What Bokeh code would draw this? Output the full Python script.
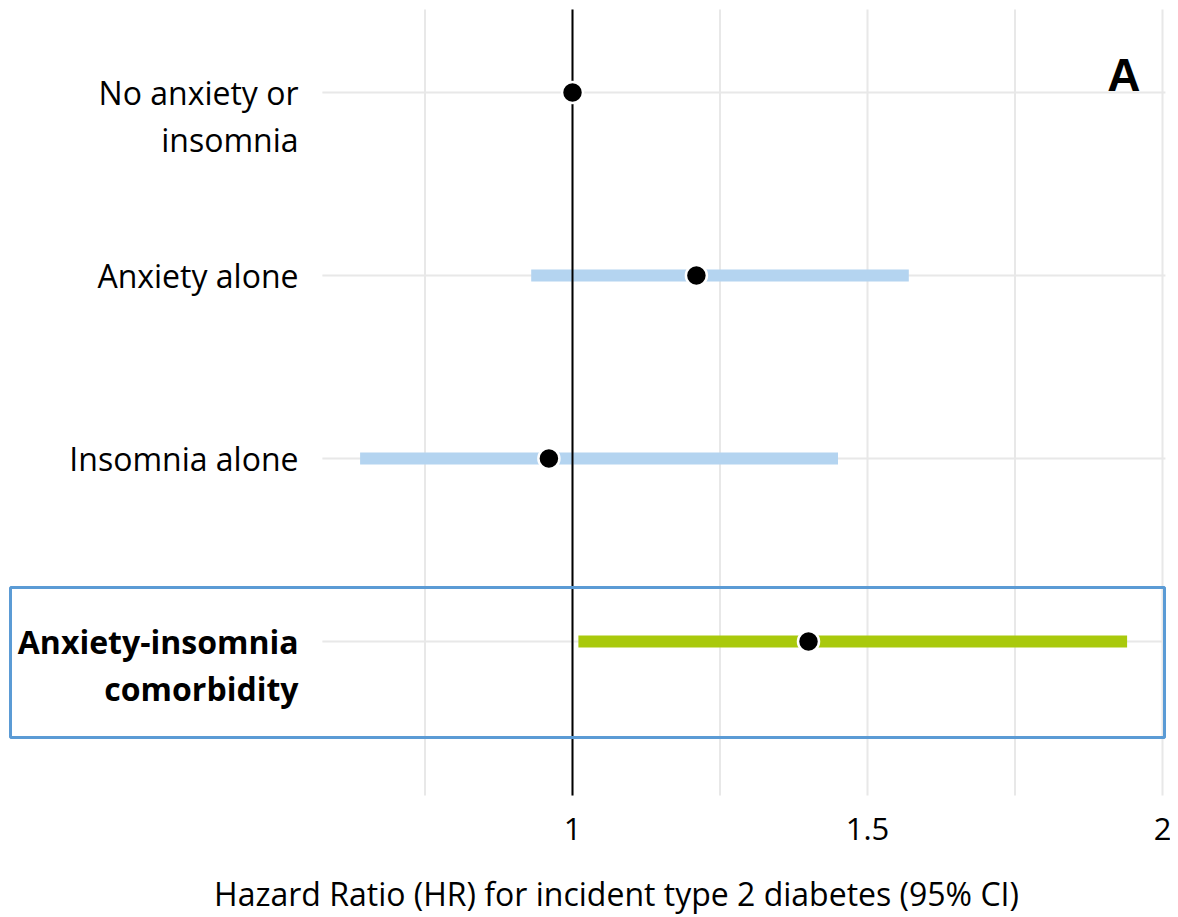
from bokeh.plotting import figure
from bokeh.models import Range1d, ColumnDataSource, BoxAnnotation
from bokeh.core.properties import value
from bokeh.embed import file_html
from bokeh.resources import INLINE

# ---- data ----
groups = ["No anxiety or\ninsomnia", "Anxiety alone", "Insomnia alone", "Anxiety-insomnia\ncomorbidity"]
rows = [4, 3, 2, 1]
hr = [1.00, 1.21, 0.96, 1.40]
ci_low = [float("nan"), 0.93, 0.64, 1.01]
ci_high = [float("nan"), 1.57, 1.45, 1.94]
bar_colors = ["#b4d4f0", "#b4d4f0", "#b4d4f0", "#a9c90c"]
label_styles = ["normal", "normal", "normal", "bold"]
tick_values = [1, 1.5, 2]
tick_labels = ["1", "1.5", "2"]
grid_values = [0.75, 1.0, 1.25, 1.5, 1.75, 2.0]
ref_hr = 1.0
x_title = "Hazard Ratio (HR) for incident type 2 diabetes (95% CI)"
panel = "A"

# ---- layout constants ----
W, H = 1170, 916
X0, X1 = 0.030508, 2.013559
Y0, Y1 = -0.50273, 4.50273
GRID_X0, GRID_X1 = 0.576, 2.005
GRID_Y0, GRID_Y1 = 0.158, 4.453
LABEL_X = 0.5356
FONT = "Open Sans"

p = figure(width=W, height=H, output_backend="svg", toolbar_location=None,
           x_range=Range1d(X0, X1), y_range=Range1d(Y0, Y1),
           min_border=0, min_border_left=0, min_border_right=0,
           min_border_top=0, min_border_bottom=0)
p.axis.visible = False
p.grid.visible = False
p.outline_line_color = None
p.background_fill_color = "white"
p.border_fill_color = "white"

# horizontal grid lines at each row
p.segment(x0=[GRID_X0] * len(rows), y0=rows, x1=[GRID_X1] * len(rows), y1=rows,
          line_color="#e8e8e8", line_width=2)
# vertical grid lines
p.segment(x0=grid_values, y0=[GRID_Y0] * len(grid_values), x1=grid_values,
          y1=[GRID_Y1] * len(grid_values), line_color="#e8e8e8", line_width=2)

src = ColumnDataSource(dict(row=rows, hr=hr, lo=ci_low, hi=ci_high, color=bar_colors))

# CI bars
p.segment(x0="lo", y0="row", x1="hi", y1="row", source=src, line_color="color",
          line_width=12, line_cap="butt")

# reference line at HR = 1
p.segment(x0=[ref_hr], y0=[GRID_Y0], x1=[ref_hr], y1=[GRID_Y1], line_color="black", line_width=2)

# point estimates
p.scatter(x="hr", y="row", source=src, size=21, fill_color="black",
          line_color="white", line_width=2.5)

# highlight box around comorbidity row
box = BoxAnnotation(left=0.0475, right=2.0034, top=1.295, bottom=0.4754,
                    fill_alpha=0, line_color="#5b9bd5", line_alpha=1, line_width=3)
p.add_layout(box)

# category labels (split into lines)
lx, ly, lt, lo_, ls = [], [], [], [], []
for g, r, st in zip(groups, rows, label_styles):
    for i, line in enumerate(g.split("\n")):
        lx.append(LABEL_X)
        ly.append(r)
        lt.append(line)
        lo_.append(i * 47)
        ls.append(st)
lsrc = ColumnDataSource(dict(x=lx, y=ly, t=lt, off=lo_, st=ls))
p.text(x="x", y="y", text="t", y_offset="off", text_font_style="st", source=lsrc,
       text_font=value(FONT), text_font_size="32px", text_align="right",
       text_baseline="middle", text_color="black")

# tick labels
TICK_Y = -0.027
p.text(x=tick_values, y=[TICK_Y] * len(tick_values), text=tick_labels,
       text_font=value(FONT), text_font_size="31px", text_align="center",
       text_baseline="middle", text_color="black")

# axis title
p.text(x=[1.0746], y=[-0.377], text=[x_title], text_font=value(FONT),
       text_font_size="32px", text_align="center", text_baseline="middle",
       text_color="black")

# panel letter
p.text(x=[1.9627], y=[4.093], text=[panel], text_font=value("Liberation Sans"),
       text_font_style="bold", text_font_size="46px",
       text_align="right", text_baseline="middle", text_color="black")

open("out.html", "w").write(file_html(p, INLINE))
